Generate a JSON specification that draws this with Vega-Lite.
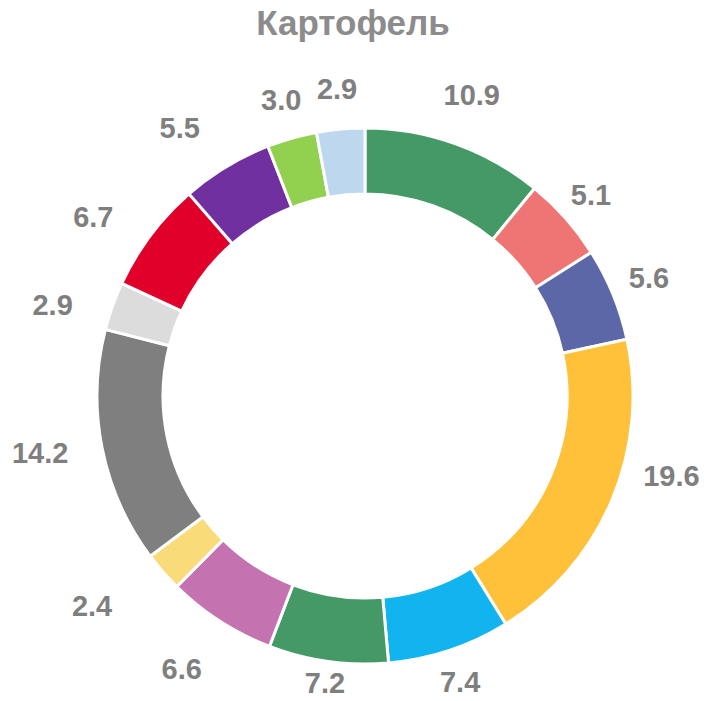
{
  "$schema": "https://vega.github.io/schema/vega-lite/v6.json",
  "autosize": {"type": "none"},
  "width": 730,
  "height": 672,
  "padding": {"left": 0, "top": 60, "right": 0, "bottom": 0},
  "background": "white",
  "title": {
    "text": "Картофель",
    "font": "Liberation Sans",
    "fontSize": 35,
    "fontWeight": "bold",
    "color": "#8c8c8c",
    "anchor": "middle",
    "frame": "group",
    "dx": -12,
    "dy": 25,
    "offset": 20
  },
  "data": {
    "values": [
      {"k": 1, "v": 10.9},
      {"k": 2, "v": 5.1},
      {"k": 3, "v": 5.6},
      {"k": 4, "v": 19.6},
      {"k": 5, "v": 7.4},
      {"k": 6, "v": 7.2},
      {"k": 7, "v": 6.6},
      {"k": 8, "v": 2.4},
      {"k": 9, "v": 14.2},
      {"k": 10, "v": 2.9},
      {"k": 11, "v": 6.7},
      {"k": 12, "v": 5.5},
      {"k": 13, "v": 3.0},
      {"k": 14, "v": 2.9}
    ]
  },
  "encoding": {
    "theta": {"field": "v", "type": "quantitative", "stack": true},
    "order": {"field": "k", "type": "quantitative"}
  },
  "layer": [
    {
      "mark": {"type": "arc", "outerRadius": 268, "innerRadius": 202, "stroke": "white", "strokeWidth": 3},
      "encoding": {
        "color": {
          "field": "k",
          "type": "nominal",
          "legend": null,
          "scale": {
            "domain": [1,2,3,4,5,6,7,8,9,10,11,12,13,14],
            "range": ["#449966", "#ef7474", "#5b67a6", "#ffc03a", "#12b4f0", "#449966", "#c472b0", "#fadb7a", "#7f7f7f", "#dcdcdc", "#e0002a", "#7030a0", "#92d050", "#bdd7ee"]
          }
        }
      }
    },
    {
      "mark": {"type": "text", "radius": 291, "font": "Liberation Sans", "fontSize": 29, "fontWeight": "bold", "fill": "#7f7f7f", "align": "center", "baseline": "middle"},
      "encoding": {"text": {"condition": {"test": "datum.k == 6", "field": "v", "type": "quantitative", "format": ".1f"}, "value": ""}}
    },
    {
      "mark": {"type": "text", "radius": 302, "font": "Liberation Sans", "fontSize": 29, "fontWeight": "bold", "fill": "#7f7f7f", "align": "center", "baseline": "middle"},
      "encoding": {"text": {"condition": {"test": "datum.k == 2 || datum.k == 5", "field": "v", "type": "quantitative", "format": ".1f"}, "value": ""}}
    },
    {
      "mark": {"type": "text", "radius": 307, "font": "Liberation Sans", "fontSize": 29, "fontWeight": "bold", "fill": "#7f7f7f", "align": "center", "baseline": "middle"},
      "encoding": {"text": {"condition": {"test": "datum.k == 3 || datum.k == 13 || datum.k == 14", "field": "v", "type": "quantitative", "format": ".1f"}, "value": ""}}
    },
    {
      "mark": {"type": "text", "radius": 318, "font": "Liberation Sans", "fontSize": 29, "fontWeight": "bold", "fill": "#7f7f7f", "align": "center", "baseline": "middle"},
      "encoding": {"text": {"condition": {"test": "datum.k == 1", "field": "v", "type": "quantitative", "format": ".1f"}, "value": ""}}
    },
    {
      "mark": {"type": "text", "radius": 317, "thetaOffset": -0.143, "font": "Liberation Sans", "fontSize": 29, "fontWeight": "bold", "fill": "#7f7f7f", "align": "center", "baseline": "middle"},
      "encoding": {"text": {"condition": {"test": "datum.k == 4", "field": "v", "type": "quantitative", "format": ".1f"}, "value": ""}}
    },
    {
      "mark": {"type": "text", "radius": 330, "thetaOffset": 0.017, "font": "Liberation Sans", "fontSize": 29, "fontWeight": "bold", "fill": "#7f7f7f", "align": "center", "baseline": "middle"},
      "encoding": {"text": {"condition": {"test": "datum.k == 7 || datum.k == 9", "field": "v", "type": "quantitative", "format": ".1f"}, "value": ""}}
    },
    {
      "mark": {"type": "text", "radius": 345, "thetaOffset": 0.058, "font": "Liberation Sans", "fontSize": 29, "fontWeight": "bold", "fill": "#7f7f7f", "align": "center", "baseline": "middle"},
      "encoding": {"text": {"condition": {"test": "datum.k == 8", "field": "v", "type": "quantitative", "format": ".1f"}, "value": ""}}
    },
    {
      "mark": {"type": "text", "radius": 325, "thetaOffset": -0.063, "font": "Liberation Sans", "fontSize": 29, "fontWeight": "bold", "fill": "#7f7f7f", "align": "center", "baseline": "middle"},
      "encoding": {"text": {"condition": {"test": "datum.k >= 10 && datum.k <= 12", "field": "v", "type": "quantitative", "format": ".1f"}, "value": ""}}
    }
  ]
}
